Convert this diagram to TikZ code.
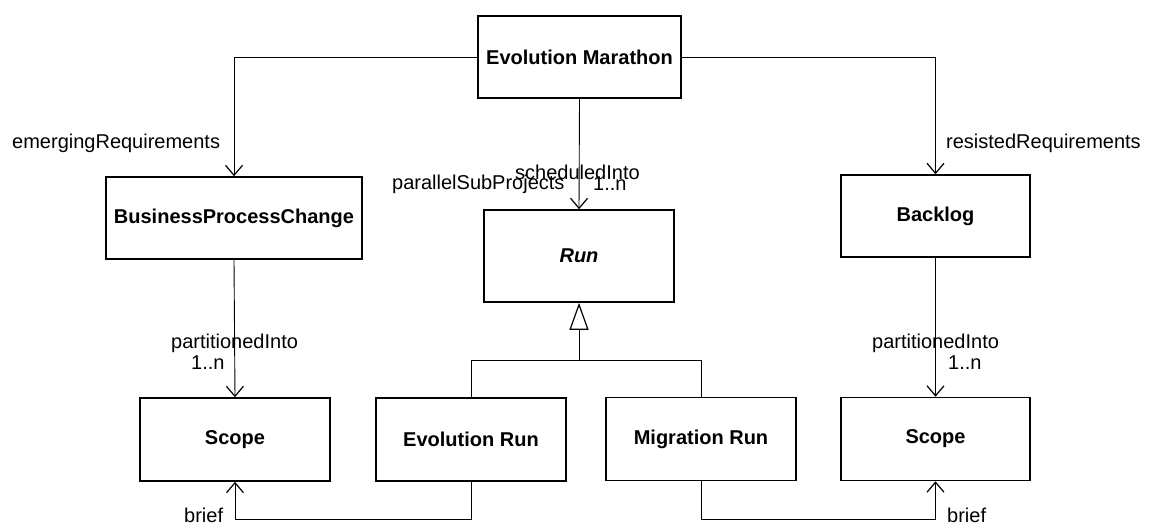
\documentclass[tikz,border=0pt]{standalone}
\usepackage{fontspec}
\setmainfont{Liberation Sans}
\usetikzlibrary{arrows.meta}
\begin{document}
\begin{tikzpicture}[x=1pt,y=-1pt,
  every node/.style={font=\fontsize{20}{24}\selectfont},
  cls/.style={draw, line width=1.6pt, fill=white, inner sep=0pt, font=\fontsize{20}{24}\selectfont\bfseries},
  lbl/.style={anchor=west, inner sep=0pt, font=\fontsize{20}{24}\selectfont},
  conn/.style={line width=0.9pt},
  assoc/.style={conn, -{Straight Barb[length=10pt,width=17pt,line width=1.2pt]}},
  gen/.style={conn, -{Triangle[open,length=27pt,width=19pt,line width=1.2pt,fill=white]}}]
\useasboundingbox (0,0) rectangle (1161,523);
\node[cls, minimum width=203pt, minimum height=82pt] (mar) at (579.5,57) {Evolution Marathon};
\node[cls, minimum width=256pt, minimum height=82pt] (bpc) at (234,218) {BusinessProcessChange};
\node[cls, minimum width=190pt, minimum height=92pt] (run) at (579,256) {\itshape Run};
\node[cls, minimum width=189pt, minimum height=82pt] (bl) at (935.5,216) {Backlog};
\node[cls, minimum width=190pt, minimum height=83pt] (sca) at (235,439.5) {Scope};
\node[cls, minimum width=190pt, minimum height=83pt] (evo) at (471,439.5) {Evolution Run};
\node[cls, minimum width=190pt, minimum height=83pt] (mig) at (701,439) {Migration Run};
\node[cls, minimum width=189pt, minimum height=83pt] (scb) at (935.5,439) {Scope};

\draw[assoc] (mar.west) -| (bpc.north);
\draw[assoc] (mar.east) -| (bl.north);
\draw[assoc] (mar.south) -- (run.north);
\draw[assoc] (bpc.south) -- (sca.north);
\draw[assoc] (bl.south) -- (scb.north);

\coordinate (j) at (579,360);
\draw[gen] (j) -- (run.south);
\draw[conn] (evo.north) -- (evo.north |- j) -- (mig.north |- j) -- (mig.north);

\coordinate (ba) at (471,519);
\coordinate (bb) at (701,519);
\draw[assoc] (evo.south) -- (ba) -| (sca.south);
\draw[assoc] (mig.south) -- (bb) -| (scb.south);

\node[lbl] (l1) at (12,143) {emergingRequirements};
\node[lbl] (l2) at (946,143) {resistedRequirements};
\node[lbl] (l3) at (515,172) {scheduledInto};
\node[lbl] (l4) at (392,184) {parallelSubProjects};
\node[lbl] (l5) at (593,184) {1..n};
\node[lbl] (l6) at (171,343) {partitionedInto};
\node[lbl] (l7) at (191,363) {1..n};
\node[lbl] (l8) at (872,343) {partitionedInto};
\node[lbl] (l9) at (948,363) {1..n};
\node[lbl] (l10) at (184,515) {brief};
\node[lbl] (l11) at (947,515) {brief};
\end{tikzpicture}
\end{document}
